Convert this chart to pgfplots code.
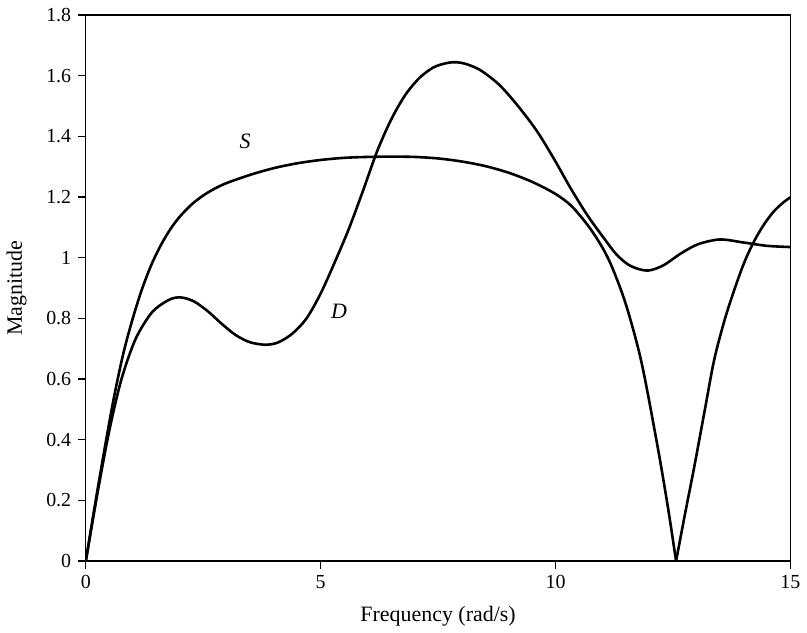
\documentclass[border=0pt]{standalone}
\usepackage{fontspec}
\setmainfont{Liberation Serif}
\usepackage{pgfplots}
\pgfplotsset{compat=1.18}
\begin{document}
\begin{tikzpicture}
\begin{axis}[
  name=ax,
  scale only axis=true,
  width=353.5pt, height=274pt,
  xmin=0, xmax=15, ymin=0, ymax=1.8,
  xtick={0,5,10,15},
  ytick={0,0.2,0.4,0.6,0.8,1,1.2,1.4,1.6,1.8},
  yticklabels={0,0.2,0.4,0.6,0.8,1,1.2,1.4,1.6,1.8},
  tick align=outside,
  tick pos=left,
  major tick length=3.8pt,
  axis line style={line width=0.6pt},
  every tick/.style={line width=0.6pt, black},
  /pgf/number format/assume math mode=true,
  tick label style={font=\fontsize{10}{12}\selectfont},
  label style={font=\fontsize{11}{13}\selectfont},
  xlabel={Frequency (rad/s)},
  ylabel={Magnitude},
  xlabel style={at={(axis description cs:0.5,-0.1004)}, anchor=center},
  ylabel style={at={(axis description cs:-0.0982,0.5)}, anchor=center},
  clip=true,
]
% S curve, left branch
\addplot[black, line width=1.3pt, smooth, tension=0.5] coordinates {
(0,0) (0.2,0.19) (0.4,0.37) (0.6,0.54) (0.8,0.685) (1.0,0.80) (1.2,0.898)
(1.4,0.978) (1.6,1.042) (1.8,1.094) (2.0,1.135) (2.25,1.175) (2.5,1.205)
(2.75,1.228) (3.0,1.246) (3.5,1.273) (4.0,1.295) (4.5,1.311) (5.0,1.322)
(5.5,1.329) (6.0,1.332) (6.5,1.333) (7.0,1.332) (7.5,1.327) (8.0,1.317)
(8.5,1.302) (9.0,1.280) (9.5,1.250) (10.0,1.210) (10.34,1.170)
(10.69,1.106) (10.98,1.038) (11.2,0.97) (11.5,0.845) (11.83,0.655)
(12.18,0.371) (12.4,0.17) (12.566,0)
};
% S curve, right branch
\addplot[black, line width=1.3pt, smooth, tension=0.5] coordinates {
(12.566,0) (12.75,0.15) (12.96,0.316) (13.18,0.50) (13.38,0.665) (13.6,0.795)
(13.81,0.896) (14.02,0.985) (14.23,1.055) (14.44,1.11) (14.65,1.153)
(14.85,1.182) (15,1.199)
};
% D curve
\addplot[black, line width=1.3pt, smooth, tension=0.5] coordinates {
(0,0) (0.25,0.225) (0.5,0.43) (0.76,0.60) (1.06,0.732) (1.41,0.82)
(1.77,0.861) (2.02,0.869) (2.3,0.856) (2.6,0.823) (2.9,0.781) (3.2,0.744)
(3.5,0.721) (3.83,0.713) (4.1,0.721) (4.4,0.750) (4.7,0.800) (5.0,0.882)
(5.3,0.985) (5.6,1.095) (5.9,1.220) (6.2,1.350) (6.5,1.455) (6.8,1.536)
(7.1,1.592) (7.4,1.627) (7.7,1.642) (7.9,1.644) (8.1,1.638) (8.4,1.618)
(8.8,1.570) (9.2,1.500) (9.6,1.418) (9.95,1.330) (10.34,1.224)
(10.69,1.137) (11.05,1.060) (11.30,1.010) (11.55,0.977) (11.78,0.962)
(12.0,0.958) (12.3,0.975) (12.67,1.014) (13.03,1.044) (13.5,1.060)
(14.0,1.050) (14.5,1.039) (15,1.035)
};
\node[font=\fontsize{11}{13}\selectfont\itshape] at (axis cs:3.39,1.383) {S};
\node[font=\fontsize{11}{13}\selectfont\itshape] at (axis cs:5.39,0.823) {D};
\end{axis}
\path ([shift={(-43pt,-36pt)}]ax.south west) rectangle ([shift={(7pt,7.5pt)}]ax.north east);
\end{tikzpicture}
\end{document}
